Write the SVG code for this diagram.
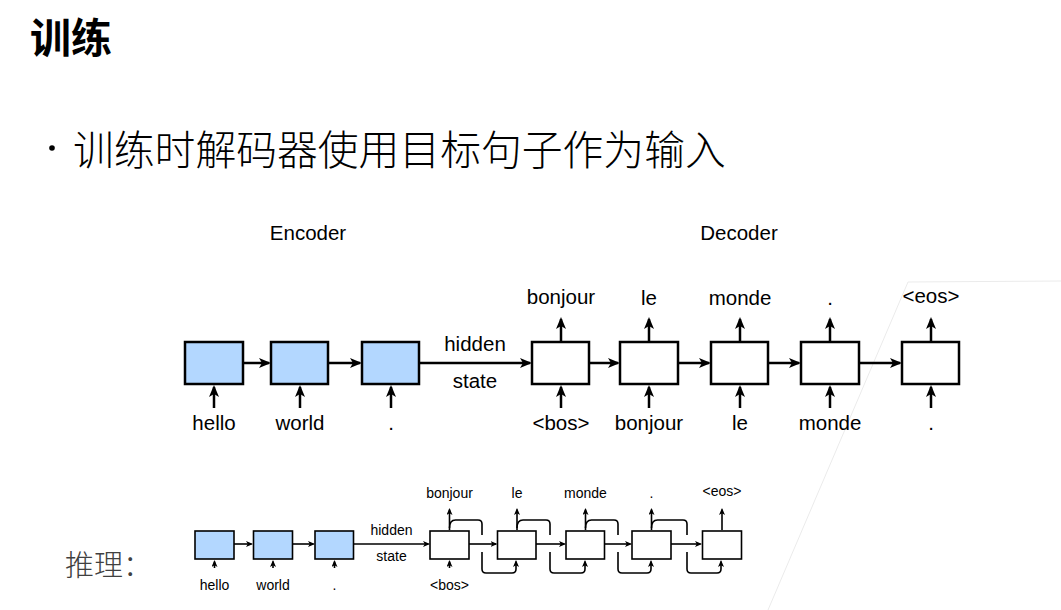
<svg xmlns="http://www.w3.org/2000/svg" width="1061" height="610" viewBox="0 0 1061 610">
<style>
.cjk{font-family:"Noto Sans CJK SC","Noto Sans",sans-serif}
.t{font-family:"Liberation Sans",Arial,sans-serif;fill:#000;text-anchor:middle}
.big{font-size:20.5px}
.sm{font-size:14px}
.enc{fill:#b3d7ff;stroke:#000;stroke-width:2.5}
.dec{fill:#fff;stroke:#000;stroke-width:2.5}
.encs{fill:#b3d7ff;stroke:#000;stroke-width:1.6}
.decs{fill:#fff;stroke:#000;stroke-width:1.6}
.c{fill:none;stroke:#000;stroke-width:2.5}
.cs{fill:none;stroke:#000;stroke-width:1.6}
</style>
<defs>
<marker id="ah" viewBox="0 0 12 10" markerWidth="12" markerHeight="10" refX="10" refY="5" orient="auto" markerUnits="userSpaceOnUse"><path d="M0,0 L12,5 L0,10 L3,5 z" fill="#000"/></marker>
<marker id="as" viewBox="0 0 7 6" markerWidth="7" markerHeight="6" refX="5.5" refY="3" orient="auto" markerUnits="userSpaceOnUse"><path d="M0,0 L7,3 L0,6 L1.8,3 z" fill="#000"/></marker>
</defs>
<rect width="1061" height="610" fill="#fff"/>
<path d="M768,610 L908,282 L1061,281" fill="none" stroke="#ebebeb" stroke-width="1"/>

<g id="title"><text class="cjk" x="30" y="53" font-size="41" font-weight="bold" fill="#000">训练</text></g>
<g id="bullet"><circle cx="52" cy="148" r="2.8" fill="#000"/><text class="cjk" x="73" y="165" font-size="40.8" font-weight="300" fill="#000">训练时解码器使用目标句子作为输入</text></g>
<g id="infer-label"><text class="cjk" x="65" y="576" font-size="29" font-weight="300" fill="#404040">推理：</text></g>

<g id="headers"><text class="t big" x="308" y="240">Encoder</text><text class="t big" x="739" y="240">Decoder</text></g>

<g id="main-connectors">
<path class="c" marker-end="url(#ah)" d="M243,363 H269"/>
<path class="c" marker-end="url(#ah)" d="M328,363 H360"/>
<path class="c" marker-end="url(#ah)" d="M419,363 H530"/>
<path class="c" marker-end="url(#ah)" d="M589,363 H618"/>
<path class="c" marker-end="url(#ah)" d="M678,363 H709"/>
<path class="c" marker-end="url(#ah)" d="M768,363 H799"/>
<path class="c" marker-end="url(#ah)" d="M859,363 H900"/>
<path class="c" marker-end="url(#ah)" d="M214,408 V387"/>
<path class="c" marker-end="url(#ah)" d="M300,408 V387"/>
<path class="c" marker-end="url(#ah)" d="M391,408 V387"/>
<path class="c" marker-end="url(#ah)" d="M561,408 V387"/>
<path class="c" marker-end="url(#ah)" d="M649,408 V387"/>
<path class="c" marker-end="url(#ah)" d="M740,408 V387"/>
<path class="c" marker-end="url(#ah)" d="M830,408 V387"/>
<path class="c" marker-end="url(#ah)" d="M931,408 V387"/>
<path class="c" marker-end="url(#ah)" d="M561,341 V319"/>
<path class="c" marker-end="url(#ah)" d="M649,341 V319"/>
<path class="c" marker-end="url(#ah)" d="M740,341 V319"/>
<path class="c" marker-end="url(#ah)" d="M830,341 V319"/>
<path class="c" marker-end="url(#ah)" d="M931,341 V319"/>
</g>

<g id="main-nodes">
<g id="enc1"><rect class="enc" x="185" y="342" width="58" height="42"/><text class="t big" x="214" y="430">hello</text></g>
<g id="enc2"><rect class="enc" x="271" y="342" width="57" height="42"/><text class="t big" x="300" y="430">world</text></g>
<g id="enc3"><rect class="enc" x="362" y="342" width="57" height="42"/><text class="t big" x="391" y="430">.</text></g>
<g id="hidden"><text class="t big" x="475" y="351">hidden</text><text class="t big" x="475" y="388">state</text></g>
<g id="dec1"><rect class="dec" x="532" y="342" width="57" height="42"/><text class="t big" x="561" y="430">&lt;bos&gt;</text><text class="t big" x="561" y="304">bonjour</text></g>
<g id="dec2"><rect class="dec" x="620" y="342" width="58" height="42"/><text class="t big" x="649" y="430">bonjour</text><text class="t big" x="649" y="305">le</text></g>
<g id="dec3"><rect class="dec" x="711" y="342" width="57" height="42"/><text class="t big" x="740" y="430">le</text><text class="t big" x="740" y="305">monde</text></g>
<g id="dec4"><rect class="dec" x="801" y="342" width="58" height="42"/><text class="t big" x="830" y="430">monde</text><text class="t big" x="830" y="305">.</text></g>
<g id="dec5"><rect class="dec" x="902" y="342" width="57" height="42"/><text class="t big" x="931" y="430">.</text><text class="t big" x="931" y="303">&lt;eos&gt;</text></g>
</g>

<g id="infer-connectors">
<path class="cs" marker-end="url(#as)" d="M234,544 H251.5"/>
<path class="cs" marker-end="url(#as)" d="M292.5,544 H313.5"/>
<path class="cs" marker-end="url(#as)" d="M353.5,544 H428.5"/>
<path class="cs" marker-end="url(#as)" d="M469,544 H496"/>
<path class="cs" marker-end="url(#as)" d="M536,544 H564.5"/>
<path class="cs" marker-end="url(#as)" d="M604.5,544 H630.5"/>
<path class="cs" marker-end="url(#as)" d="M671,544 H700.5"/>
<path class="cs" marker-end="url(#as)" d="M214.5,568 V561.5"/>
<path class="cs" marker-end="url(#as)" d="M273,568 V561.5"/>
<path class="cs" marker-end="url(#as)" d="M334.5,568 V561.5"/>
<path class="cs" marker-end="url(#as)" d="M449.5,568 V561.5"/>
<path class="cs" marker-end="url(#as)" d="M449.5,530 V509.5"/>
<path class="cs" marker-end="url(#as)" d="M517,530 V509.5"/>
<path class="cs" marker-end="url(#as)" d="M585.5,530 V509.5"/>
<path class="cs" marker-end="url(#as)" d="M651.5,530 V509.5"/>
<path class="cs" marker-end="url(#as)" d="M722,530 V509.5"/>
<path class="cs" marker-end="url(#as)" d="M449.5,528 C449.5,522 451.5,520 455.5,520 H478 Q482,520 482,524 V535 M482,552 V569 Q482,573 486,573 H512 Q516,573 516,569 V561.5"/>
<path class="cs" marker-end="url(#as)" d="M517,528 C517,522 519,520 523,520 H546 Q550,520 550,524 V535 M550,552 V569 Q550,573 554,573 H581 Q585,573 585,569 V561.5"/>
<path class="cs" marker-end="url(#as)" d="M585.5,528 C585.5,522 587.5,520 591.5,520 H614 Q618,520 618,524 V535 M618,552 V569 Q618,573 622,573 H647 Q651,573 651,569 V561.5"/>
<path class="cs" marker-end="url(#as)" d="M651.5,528 C651.5,522 653.5,520 657.5,520 H683 Q687,520 687,524 V535 M687,552 V569 Q687,573 691,573 H717 Q721,573 721,569 V561.5"/>
</g>

<g id="infer-nodes">
<g id="ienc1"><rect class="encs" x="195" y="531" width="39" height="28"/><text class="t sm" x="214.5" y="590">hello</text></g>
<g id="ienc2"><rect class="encs" x="253.5" y="531" width="39" height="28"/><text class="t sm" x="273" y="590">world</text></g>
<g id="ienc3"><rect class="encs" x="315" y="531" width="38.5" height="28"/><text class="t sm" x="334.5" y="590">.</text></g>
<g id="ihidden"><text class="t sm" x="391.5" y="535">hidden</text><text class="t sm" x="391.5" y="561">state</text></g>
<g id="idec1"><rect class="decs" x="430" y="531" width="39" height="28"/><text class="t sm" x="449.5" y="590">&lt;bos&gt;</text><text class="t sm" x="449.5" y="498">bonjour</text></g>
<g id="idec2"><rect class="decs" x="497.5" y="531" width="38.5" height="28"/><text class="t sm" x="517" y="498">le</text></g>
<g id="idec3"><rect class="decs" x="566" y="531" width="38.5" height="28"/><text class="t sm" x="585.5" y="498">monde</text></g>
<g id="idec4"><rect class="decs" x="632" y="531" width="39" height="28"/><text class="t sm" x="651.5" y="498">.</text></g>
<g id="idec5"><rect class="decs" x="702.5" y="531" width="39" height="28"/><text class="t sm" x="722" y="496">&lt;eos&gt;</text></g>
</g>
</svg>
